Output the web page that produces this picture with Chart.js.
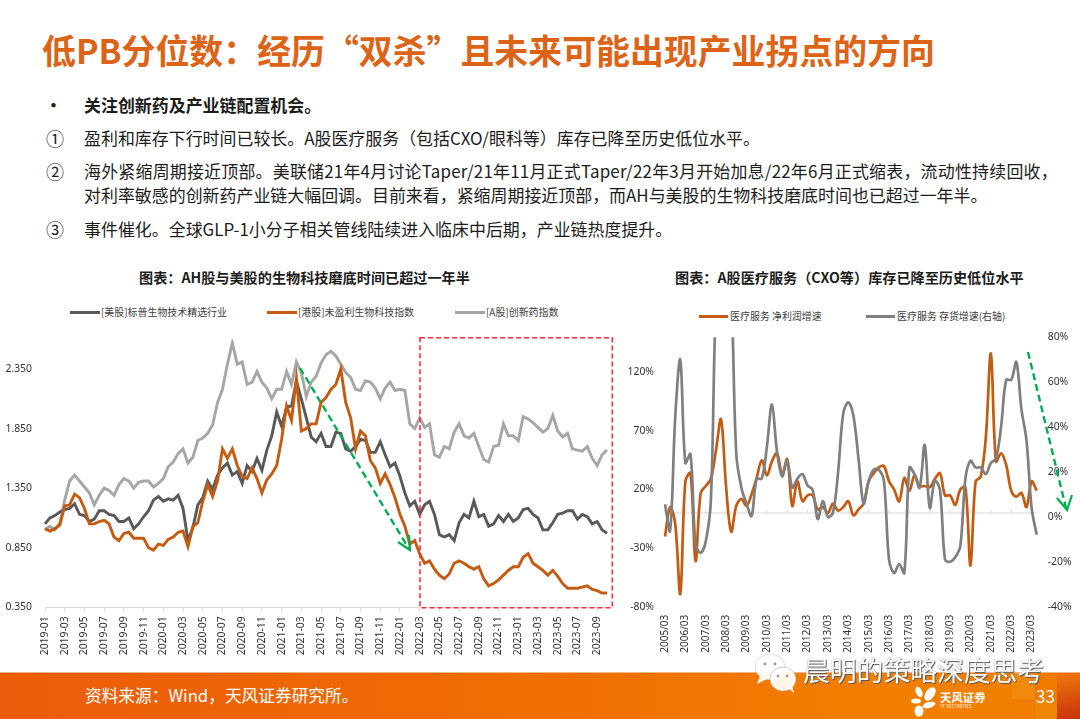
<!DOCTYPE html>
<html lang="zh">
<head>
<meta charset="utf-8">
<title>低PB分位数</title>
<script src="https://cdn.jsdelivr.net/npm/chart.js@4"></script>
<style>
  html, body { margin: 0; padding: 0; background: #fff; }
  body { position: relative; width: 1080px; height: 719px; overflow: hidden; font-family: "Noto Sans CJK SC", "Noto Sans", sans-serif; color: #1c1c1c; }
  .abs { position: absolute; white-space: nowrap; }
  canvas { position: absolute; }
  .title { left: 42px; top: 26px; font-size: 33.9px; line-height: 48px; font-weight: 700; color: #DD6417; }
  .body { font-size: 16.95px; line-height: 24px; }
  .num { font-size: 18px; }
  .chart-title { font-size: 14.15px; line-height: 20px; font-weight: 700; }
  .legend { font-size: 9.95px; line-height: 14px; color: #404040; }
  .swatch { position: absolute; height: 3px; }
  .footer { left: 0; top: 672px; width: 1080px; height: 47px; background: linear-gradient(90deg, #EC5C0A 0%, #EF6A04 40%, #F28000 85%); border-top: 1px solid #f6b58c; box-sizing: border-box; }
  .block { position: absolute; }
</style>
</head>
<body>
<div class="abs title">低PB分位数：经历“双杀”且未来可能出现产业拐点的方向</div>

<div class="abs body" style="left:45px;top:93px;font-weight:700">•</div>
<div class="abs body" style="left:84px;top:93px;font-weight:700">关注创新药及产业链配置机会。</div>
<div class="abs body num" style="left:46px;top:126px">①</div>
<div class="abs body" style="left:84px;top:126px">盈利和库存下行时间已较长。A股医疗服务（包括CXO/眼科等）库存已降至历史低位水平。</div>
<div class="abs body num" style="left:46px;top:159px">②</div>
<div class="abs body" style="left:84px;top:159px;letter-spacing:0.22px">海外紧缩周期接近顶部。美联储21年4月讨论Taper/21年11月正式Taper/22年3月开始加息/22年6月正式缩表，流动性持续回收，</div>
<div class="abs body" style="left:84px;top:183px">对利率敏感的创新药产业链大幅回调。目前来看，紧缩周期接近顶部，而AH与美股的生物科技磨底时间也已超过一年半。</div>
<div class="abs body num" style="left:46px;top:217px">③</div>
<div class="abs body" style="left:84px;top:217px">事件催化。全球GLP-1小分子相关管线陆续进入临床中后期，产业链热度提升。</div>

<div class="abs chart-title" style="left:139px;top:267px">图表：AH股与美股的生物科技磨底时间已超过一年半</div>
<div class="abs chart-title" style="left:675px;top:267px">图表：A股医疗服务（CXO等）库存已降至历史低位水平</div>

<div class="swatch" style="left:70px;top:311px;width:30px;background:#595959"></div>
<div class="abs legend" style="left:101px;top:305px">[美股]标普生物技术精选行业</div>
<div class="swatch" style="left:267px;top:311px;width:30px;background:#C55A11"></div>
<div class="abs legend" style="left:298px;top:305px">[港股]未盈利生物科技指数</div>
<div class="swatch" style="left:455px;top:311px;width:30px;background:#A6A6A6"></div>
<div class="abs legend" style="left:486px;top:305px">[A股]创新药指数</div>

<div class="swatch" style="left:699px;top:315px;width:29px;background:#C55A11"></div>
<div class="abs legend" style="left:730px;top:309px">医疗服务 净利润增速</div>
<div class="swatch" style="left:866px;top:315px;width:29px;background:#7F7F7F"></div>
<div class="abs legend" style="left:897px;top:309px">医疗服务 存货增速(右轴)</div>

<canvas id="leftChart" width="640" height="350" style="left:0;top:320px"></canvas>
<canvas id="rightChart" width="460" height="350" style="left:620px;top:320px"></canvas>

<svg class="abs" style="left:0;top:0" width="1080" height="719" fill="none">
  <rect x="420" y="337.7" width="192.3" height="270" stroke="#FF2B36" stroke-width="1.6" stroke-dasharray="5 3"/>
  <path d="M300 368 L409 549" stroke="#00B050" stroke-width="2.4" stroke-dasharray="7 4"/>
  <path d="M398 542 L410 550 L409 535" stroke="#00B050" stroke-width="2.2"/>
  <path d="M1028 352 L1066 508" stroke="#00B050" stroke-width="2.4" stroke-dasharray="7 4"/>
  <path d="M1057 498 L1067 510 L1072 495" stroke="#00B050" stroke-width="2.2"/>
</svg>

<div class="abs footer">
  <div class="block" style="left:1012px;top:0;width:23px;height:26px;background:#F18A0C"></div>
  <div class="block" style="left:1012px;top:26px;width:23px;height:21px;background:#F07C00"></div>
  <div class="block" style="left:1035px;top:0;width:22px;height:26px;background:#EE7A02"></div>
  <div class="block" style="left:1035px;top:26px;width:22px;height:21px;background:#EE8508"></div>
  <div class="block" style="left:1057px;top:0;width:23px;height:47px;background:linear-gradient(170deg,#F0780A,#C8300C)"></div>
</div>
<div class="abs" style="left:85px;top:683px;font-size:16.7px;line-height:24px;color:#fff">资料来源：Wind，天风证券研究所。</div>
<div class="abs" style="left:1036px;top:684px;font-size:17px;line-height:24px;color:#fff">33</div>

<svg class="abs" style="left:911px;top:686px" width="28" height="33" fill="#fff">
  <ellipse cx="8" cy="6" rx="3.2" ry="5.5" transform="rotate(-25 8 6)"/>
  <ellipse cx="19" cy="8" rx="4.5" ry="7.5" transform="rotate(35 19 8)"/>
  <ellipse cx="5" cy="15" rx="5" ry="2.5"/>
  <ellipse cx="18" cy="19" rx="6.5" ry="3" transform="rotate(-15 18 19)"/>
  <ellipse cx="8" cy="25" rx="4.5" ry="5.5"/>
</svg>
<div class="abs" style="left:940px;top:688px;font-size:11.4px;line-height:18px;font-weight:700;color:#fff">天风证券</div>
<div class="abs" style="left:940px;top:703px;font-size:4.6px;line-height:6px;color:#fff">TF SECURITIES</div>

<svg class="abs" style="left:750px;top:646px" width="50" height="50">
  <ellipse cx="20" cy="21" rx="15" ry="13" fill="#fff" fill-opacity="0.92" stroke="#999" stroke-opacity="0.35"/>
  <path d="M10 30 L7 38 L17 33 Z" fill="#fff" fill-opacity="0.92"/>
  <ellipse cx="33" cy="33" rx="13" ry="12" fill="#fff" fill-opacity="0.92" stroke="#999" stroke-opacity="0.45"/>
  <path d="M38 42 L44 47 L42 39 Z" fill="#fff" fill-opacity="0.92"/>
  <circle cx="15" cy="18" r="1.4" fill="#999"/><circle cx="25" cy="18" r="1.4" fill="#999"/>
  <circle cx="28" cy="30" r="1.4" fill="#999"/><circle cx="37" cy="30" r="1.4" fill="#999"/>
</svg>
<div class="abs" style="left:803px;top:652px;font-size:26.8px;line-height:36px;color:#fff;text-shadow:1px 1px 1px #555, 0 0 1px #777">晨明的策略深度思考</div>

<script>
// left chart: half-month slots, one label every 2 months
const monthTicks = ['2019-01','2019-03','2019-05','2019-07','2019-09','2019-11','2020-01','2020-03','2020-05','2020-07','2020-09','2020-11','2021-01','2021-03','2021-05','2021-07','2021-09','2021-11','2022-01','2022-03','2022-05','2022-07','2022-09','2022-11','2023-01','2023-03','2023-05','2023-07','2023-09'];
const yTicksLeft = [0.35, 0.85, 1.35, 1.85, 2.35];

const usBiotech = [1.05,1.10,1.12,1.15,1.17,1.18,1.22,1.13,1.12,1.07,1.09,1.16,1.16,1.13,1.12,1.07,1.07,1.10,1.01,1.05,1.11,1.16,1.25,1.28,1.24,1.26,1.25,1.29,1.18,0.91,1.02,1.21,1.27,1.41,1.34,1.46,1.52,1.56,1.46,1.49,1.39,1.54,1.49,1.60,1.50,1.67,1.79,1.99,1.87,2.03,2.04,2.25,2.10,1.94,1.78,1.74,1.81,1.70,1.70,1.82,1.81,1.68,1.66,1.70,1.76,1.75,1.65,1.65,1.74,1.63,1.53,1.56,1.45,1.31,1.20,1.24,1.13,1.21,1.24,1.13,0.96,0.94,0.96,0.91,1.06,1.13,1.10,1.24,1.11,1.13,1.03,1.05,1.12,1.07,1.13,1.07,1.10,1.17,1.18,1.13,1.10,1.00,1.00,1.06,1.13,1.14,1.16,1.16,1.09,1.13,1.11,1.05,1.07,1.00,0.97];
const hkBiotech = [1.01,0.99,1.01,1.04,1.20,1.21,1.30,1.27,1.18,1.05,1.05,1.07,1.08,1.05,0.94,0.91,0.97,0.98,0.93,0.93,0.93,0.85,0.83,0.88,0.87,0.92,0.94,0.98,0.99,0.86,1.03,1.06,1.24,1.38,1.28,1.41,1.68,1.60,1.68,1.54,1.45,1.43,1.52,1.43,1.31,1.42,1.47,1.54,1.76,2.04,1.92,2.27,1.83,1.85,1.89,1.89,2.07,2.11,2.18,2.22,2.35,2.07,1.94,1.68,1.83,1.79,1.58,1.52,1.39,1.47,1.38,1.27,1.13,1.03,0.88,0.91,0.80,0.72,0.74,0.67,0.62,0.59,0.63,0.72,0.74,0.72,0.69,0.67,0.69,0.59,0.53,0.55,0.58,0.62,0.66,0.69,0.69,0.77,0.80,0.72,0.69,0.66,0.62,0.66,0.61,0.55,0.51,0.51,0.51,0.52,0.53,0.50,0.49,0.47,0.47];
const aInnovative = [1.00,1.03,1.00,1.06,1.25,1.41,1.46,1.41,1.36,1.31,1.21,1.29,1.35,1.33,1.29,1.38,1.43,1.41,1.35,1.40,1.41,1.41,1.36,1.39,1.43,1.53,1.57,1.64,1.68,1.56,1.61,1.75,1.77,1.81,1.88,2.07,2.18,2.39,2.57,2.39,2.41,2.22,2.24,2.33,2.24,2.19,2.10,2.18,2.18,2.33,2.22,2.41,2.32,2.12,2.24,2.29,2.40,2.47,2.50,2.46,2.39,2.32,2.28,2.18,2.17,2.25,2.24,2.19,2.10,2.19,2.24,2.17,2.18,2.17,1.89,1.85,1.94,1.86,1.89,1.63,1.61,1.70,1.68,1.82,1.89,1.79,1.77,1.81,1.70,1.59,1.57,1.70,1.71,1.89,1.79,1.79,1.75,1.95,1.93,1.90,1.86,1.82,1.85,1.96,1.83,1.78,1.81,1.68,1.67,1.66,1.70,1.60,1.54,1.63,1.67];

// right chart: quarterly, left axis %, right axis %
const reportYears = [2005,2006,2007,2008,2009,2010,2011,2012,2013,2014,2015,2016,2017,2018,2019,2020,2021,2022,2023];
const quarterEnds = ['03','06','09','12'];
const yTicksProfit = [-80, -30, 20, 70, 120];
const profitGrowth = [-20,5,-9,-69,27,34,-41,17,23,29,53,80,22,-16,6,12,6,16,30,45,32,44,51,33,46,6,27,10,15,15,3,5,0,8,2,5,10,-2,3,8,27,34,39,40,27,20,10,30,19,32,23,23,22,29,34,15,15,7,20,22,-45,27,31,64,136,44,51,41,19,14,17,5,27,19];
const inventoryGrowth = [5.6,-6.2,44,70,24,28,-12,-16,-11,7,95,115,120,100,28,13,6,0.4,17,17,31,50,29,18,25,13,17,19,14,12,-1,7,0,2,20,46,51,45,26,6,16,21,21,16,-19,-25,-21,-25,22,19,13,32,4,16,12,-19,-20,-18,-13,17,25,22,22,19,24,26,40,61,61,69,48,34,4,-8];

const halfMonthLabels = monthTicks.flatMap(m => [m, m, m, m]).slice(0, usBiotech.length);
const quarterLabels = reportYears.flatMap(y => quarterEnds.map(q => y + '/' + q)).slice(0, profitGrowth.length);

Chart.defaults.font.family = '"Noto Sans", sans-serif';
Chart.defaults.color = '#333';
Chart.defaults.animation = false;

const everyFourth = scale => {
  scale.ticks = scale.ticks.filter(t => t.value % 4 === 0);
};

new Chart(document.getElementById('leftChart'), {
  type: 'line',
  data: {
    labels: halfMonthLabels,
    datasets: [
      { label: '[美股]标普生物技术精选行业', data: usBiotech, borderColor: '#595959', borderWidth: 2.9, order: 2 },
      { label: '[港股]未盈利生物科技指数', data: hkBiotech, borderColor: '#C55A11', borderWidth: 2.9, order: 1 },
      { label: '[A股]创新药指数', data: aInnovative, borderColor: '#A6A6A6', borderWidth: 2.9, order: 3 },
    ],
  },
  options: {
    responsive: false,
    layout: { padding: { top: 16, right: 33, left: 0, bottom: 0 } },
    elements: { point: { radius: 0 }, line: { tension: 0 } },
    plugins: { legend: { display: false }, tooltip: { enabled: false } },
    scales: {
      x: {
        grid: { drawOnChartArea: false, color: '#D9D9D9', tickLength: 4 },
        border: { color: '#D9D9D9' },
        afterBuildTicks: everyFourth,
        afterFit: s => { s.height = 62.7; },
        ticks: { autoSkip: false, minRotation: 90, maxRotation: 90, padding: 5, font: { size: 10.4 } },
      },
      y: {
        min: yTicksLeft[0],
        max: 2.6,
        grid: { display: false, drawTicks: false },
        border: { display: false },
        afterBuildTicks: s => { s.ticks = yTicksLeft.map(value => ({ value })); },
        afterFit: s => { s.width = 45; },
        ticks: { padding: 13, font: { size: 10.4 }, callback: v => v.toFixed(3) },
      },
    },
  },
});

const zeroLine = {
  id: 'zeroLine',
  beforeDatasetsDraw(chart) {
    const { ctx, scales: { x, y }, chartArea } = chart;
    const py = y.getPixelForValue(0);
    ctx.save();
    ctx.strokeStyle = '#D9D9D9';
    ctx.lineWidth = 1;
    ctx.beginPath();
    ctx.moveTo(chartArea.left, py);
    ctx.lineTo(chartArea.right, py);
    x.ticks.forEach((t, i) => {
      const px = x.getPixelForTick(i);
      ctx.moveTo(px, py);
      ctx.lineTo(px, py - 3);
    });
    ctx.stroke();
    ctx.restore();
  },
};

new Chart(document.getElementById('rightChart'), {
  type: 'line',
  plugins: [zeroLine],
  data: {
    labels: quarterLabels,
    datasets: [
      { label: '医疗服务 净利润增速', data: profitGrowth, yAxisID: 'y', borderColor: '#C55A11', borderWidth: 2.7, order: 2 },
      { label: '医疗服务 存货增速(右轴)', data: inventoryGrowth, yAxisID: 'y1', borderColor: '#7F7F7F', borderWidth: 2.7, order: 1 },
    ],
  },
  options: {
    responsive: false,
    layout: { padding: { top: 15.7, right: 0, left: 0, bottom: 0 } },
    elements: { point: { radius: 0 }, line: { tension: 0.35 } },
    plugins: { legend: { display: false }, tooltip: { enabled: false } },
    scales: {
      x: {
        grid: { display: false, drawTicks: false },
        border: { display: false },
        afterBuildTicks: everyFourth,
        afterFit: s => { s.height = 63.3; },
        ticks: { autoSkip: false, minRotation: 90, maxRotation: 90, padding: 8, font: { size: 10 } },
      },
      y: {
        min: -80,
        max: 150,
        grid: { display: false, drawTicks: false },
        border: { display: false },
        afterBuildTicks: s => { s.ticks = yTicksProfit.map(value => ({ value })); },
        afterFit: s => { s.width = 45; },
        ticks: { padding: 11, font: { size: 10.4 }, callback: v => v + '%' },
      },
      y1: {
        position: 'right',
        min: -40,
        max: 80,
        grid: { display: false, drawTicks: false },
        border: { display: false },
        afterFit: s => { s.width = 43.3; },
        ticks: { stepSize: 20, padding: 11, font: { size: 10.4 }, callback: v => v + '%' },
      },
    },
  },
});
</script>
</body>
</html>
